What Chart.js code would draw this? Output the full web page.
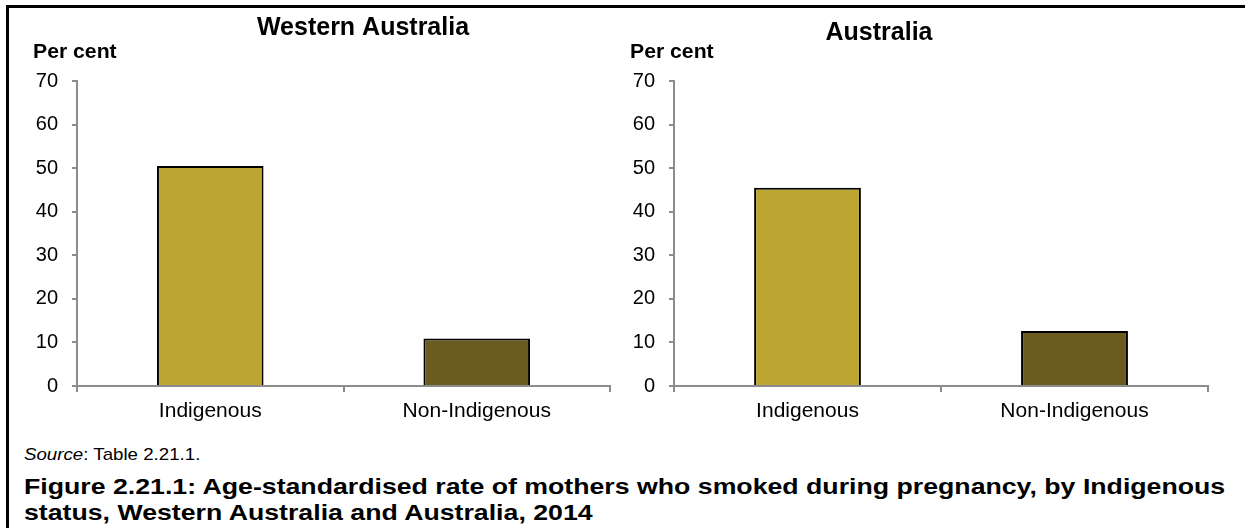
<!DOCTYPE html>
<html>
<head>
<meta charset="utf-8">
<script src="https://cdn.jsdelivr.net/npm/chart.js@4.4.0/dist/chart.umd.min.js"></script>
<style>
  body { margin: 0; background: #fff; font-family: "Liberation Sans", Arial, sans-serif; }
  #wrap { position: relative; width: 1245px; height: 528px; overflow: hidden; }
  #frame { position: absolute; left: 6px; top: 5px; width: 1400px; height: 700px;
           border-left: 3px solid #000; border-top: 3px solid #000; }
  canvas { position: absolute; top: 0; }
  #c1 { left: 0; }
  #c2 { left: 600px; }
  #source { position: absolute; left: 24px; top: 445px; font-size: 17px; line-height: 20px; color: #000;
            transform-origin: 0 0; transform: scaleX(1.1); white-space: nowrap; }
  #caption { position: absolute; left: 24px; top: 474px; font-size: 22px; line-height: 26px;
             font-weight: bold; color: #000; white-space: nowrap; transform-origin: 0 0; }
</style>
</head>
<body>
<div id="wrap">
  <div id="frame"></div>
  <canvas id="c1" width="720" height="430"></canvas>
  <canvas id="c2" width="645" height="430"></canvas>
  <div id="source"><i>Source</i>: Table 2.21.1.</div>
  <div id="caption">Figure 2.21.1: Age-standardised rate of mothers who smoked during pregnancy, by Indigenous<br>status, Western Australia and Australia, 2014</div>
</div>
<script>
// datos
const categories = ['Indigenous', 'Non-Indigenous'];
const waValues = [50.5, 10.9];
const ausValues = [45.5, 12.6];
const yTicks = [0, 10, 20, 30, 40, 50, 60, 70];
const barColors = ['#bda534', '#6b5b1f'];

const FONT = '"Liberation Sans", Arial, sans-serif';
const axisGrey = '#8c8c8c';

// el pie de figura es mas ancho en el original, se estira hasta 1201px
const cap = document.getElementById('caption');
cap.style.transform = 'scaleX(' + (1201 / cap.offsetWidth) + ')';

// titulo del panel y "Per cent" dibujados en el canvas
const panelText = {
  id: 'panelText',
  afterDraw(chart, args, opts) {
    const ctx = chart.ctx;
    ctx.save();
    ctx.fillStyle = '#000';
    ctx.textBaseline = 'middle';
    ctx.font = 'bold 25px ' + FONT;
    ctx.textAlign = 'center';
    ctx.fillText(opts.title, opts.titleX, opts.titleY);
    ctx.font = 'bold 20px ' + FONT;
    ctx.textAlign = 'left';
    ctx.translate(opts.unitX, opts.unitY);
    ctx.scale(1.06, 1);
    ctx.fillText('Per cent', 0, 0);
    ctx.restore();
  }
};

const makeChart = (id, values, title, yWidth, padRight, titleX, titleY) => {
  const ctx = document.getElementById(id).getContext('2d');
  return new Chart(ctx, {
    type: 'bar',
    data: {
      labels: categories,
      datasets: [{
        data: values,
        backgroundColor: barColors,
        borderColor: '#000',
        borderWidth: 2,
        categoryPercentage: 1,
        barPercentage: 0.4
      }]
    },
    options: {
      responsive: false,
      animation: false,
      devicePixelRatio: 1,
      layout: { padding: { left: 0, top: 81, right: padRight, bottom: 0 } },
      plugins: {
        legend: { display: false },
        tooltip: { enabled: false },
        panelText: { title: title, titleX: titleX, titleY: titleY, unitX: yWidth - 44, unitY: 52 }
      },
      scales: {
        x: {
          grid: { drawOnChartArea: false, drawTicks: true, tickLength: 6, color: axisGrey, lineWidth: 2 },
          border: { color: axisGrey, width: 2 },
          ticks: { color: '#000', font: { family: FONT, size: 21 }, padding: 7 },
          afterFit: (s) => { s.height = 44; }
        },
        y: {
          min: 0,
          max: 70,
          afterBuildTicks: (s) => { s.ticks = yTicks.map(v => ({ value: v })); },
          grid: { drawOnChartArea: false, drawTicks: true, tickLength: 5, color: axisGrey, lineWidth: 2 },
          border: { color: axisGrey, width: 2 },
          ticks: { color: '#000', font: { family: FONT, size: 20 }, padding: 14 },
          afterFit: (s) => { s.width = yWidth; }
        }
      }
    },
    plugins: [panelText]
  });
};

makeChart('c1', waValues, 'Western Australia', 77, 110, 363, 28);
makeChart('c2', ausValues, 'Australia', 74, 37, 279, 33);
</script>
</body>
</html>
